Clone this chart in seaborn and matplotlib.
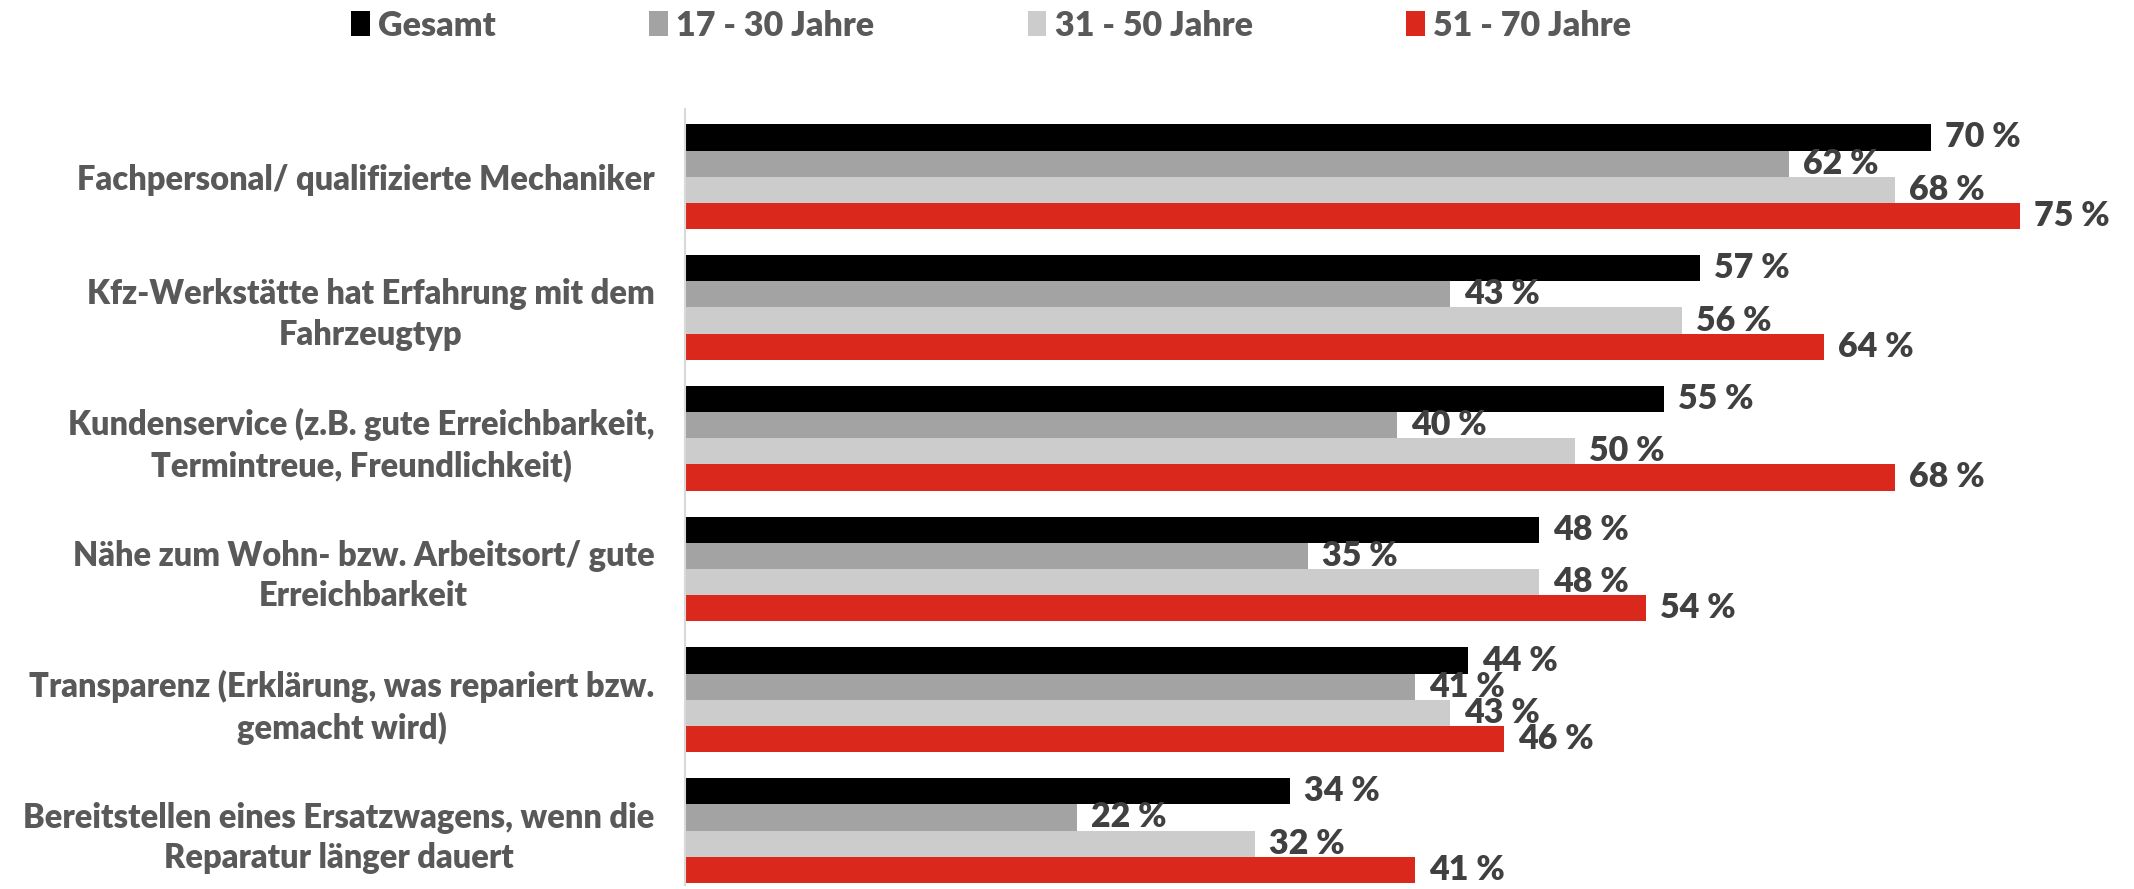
import matplotlib
matplotlib.use("Agg")
import matplotlib.pyplot as plt
import pandas as pd
import seaborn as sns

categories = [
    "Fachpersonal/ qualifizierte Mechaniker",
    "Kfz-Werkstätte hat Erfahrung mit dem\nFahrzeugtyp",
    "Kundenservice (z.B. gute Erreichbarkeit,\nTermintreue, Freundlichkeit)",
    "Nähe zum Wohn- bzw. Arbeitsort/ gute\nErreichbarkeit",
    "Transparenz (Erklärung, was repariert bzw.\ngemacht wird)",
    "Bereitstellen eines Ersatzwagens, wenn die\nReparatur länger dauert",
]
groups = ["Gesamt", "17 - 30 Jahre", "31 - 50 Jahre", "51 - 70 Jahre"]
gesamt = [70, 57, 55, 48, 44, 34]
age_17_30 = [62, 43, 40, 35, 41, 22]
age_31_50 = [68, 56, 50, 48, 43, 32]
age_51_70 = [75, 64, 68, 54, 46, 41]
colors = ["#000000", "#A3A3A3", "#CCCCCC", "#DA291C"]

rows = []
for g, vals in zip(groups, [gesamt, age_17_30, age_31_50, age_51_70]):
    for c, v in zip(categories, vals):
        rows.append({"kategorie": c, "gruppe": g, "wert": v})
df = pd.DataFrame(rows)

sns.set_style("white")
plt.rcParams["font.family"] = ["Lato", "DejaVu Sans"]
plt.rcParams["font.weight"] = "heavy"

fig = plt.figure(figsize=(21.34, 8.89), dpi=100)
ax = fig.add_axes([0.321, 0.004, 0.679, 0.873])

sns.barplot(data=df, y="kategorie", x="wert", hue="gruppe", order=categories,
            hue_order=groups, palette=colors, saturation=1, orient="h",
            width=0.8, linewidth=0, ax=ax)

# value labels next to each bar
for cont in ax.containers:
    ax.bar_label(cont, labels=[f"{int(v)} %" for v in cont.datavalues],
                 padding=10, fontsize=24.5, fontweight="heavy", color="#404040")

ax.set_xlim(0, 81.4)
ax.set_ylim(5.42, -0.515)
ax.set_xlabel("")
ax.set_ylabel("")
ax.set_xticks([])
ax.tick_params(axis="y", length=0, pad=22)
for lab in ax.get_yticklabels():
    lab.set_fontsize(23.5)
    lab.set_fontweight("heavy")
    lab.set_color("#595959")
    lab.set_multialignment("center")
    lab.set_linespacing(1.32)

for s in ["top", "right", "bottom"]:
    ax.spines[s].set_visible(False)
ax.spines["left"].set_color("#D9D9D9")
ax.spines["left"].set_linewidth(1.5)

sns.move_legend(ax, "center", bbox_to_anchor=(0.4645, 0.971),
                bbox_transform=fig.transFigure, ncol=4, frameon=False,
                title=None, fontsize=24.5, handlelength=0.55, handleheight=0.75,
                handletextpad=0.25, columnspacing=4.5)
for t in ax.get_legend().get_texts():
    t.set_color("#595959")
    t.set_fontweight("heavy")

fig.savefig("out.png", dpi=100)
